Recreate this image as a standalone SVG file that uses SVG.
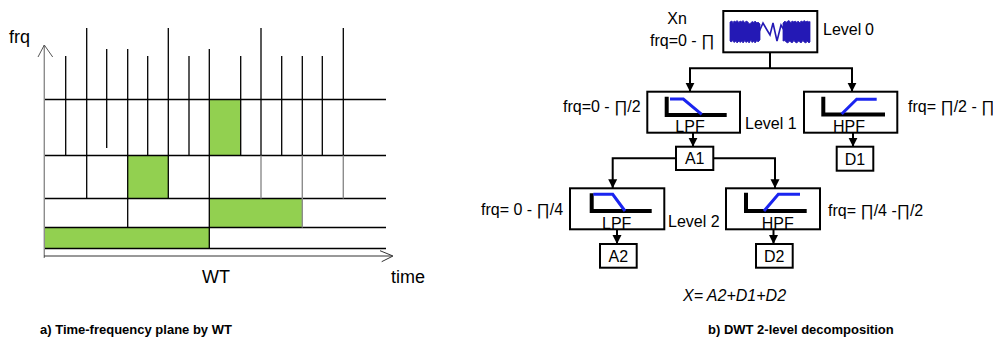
<svg xmlns="http://www.w3.org/2000/svg" width="993" height="352" viewBox="0 0 993 352">
<defs>
<marker id="ah" markerUnits="userSpaceOnUse" markerWidth="9" markerHeight="10" refX="9" refY="4.5" orient="auto" viewBox="0 0 9 9">
<path d="M0,0 L9,4.5 L0,9 z" fill="#000"/>
</marker>
</defs>
<style>
text{font-family:"Liberation Sans",Arial,sans-serif;fill:#000}
.t16{font-size:16px}
.t18{font-size:18px}
.cap{font-size:13px;font-weight:bold}
.grid{stroke:#000;stroke-width:1.3;fill:none}
.gray{stroke:#8c8c8c;stroke-width:1.4;fill:none}
.green{fill:#92d050}
.box{fill:#fff;stroke:#000;stroke-width:2}
.conn{stroke:#000;stroke-width:2;fill:none}
.blk{stroke:#000;stroke-width:4;fill:none}
.blu{stroke:#1a24f0;stroke-width:3;fill:none}
</style>

<g id="tf-plane">
<rect class="green" x="209.3" y="99.5" width="31.4" height="56"/>
<rect class="green" x="127.7" y="155.5" width="40.6" height="43"/>
<rect class="green" x="209.3" y="198.5" width="92.7" height="29"/>
<rect class="green" x="44.3" y="227.5" width="165" height="21"/>
<g class="grid">
<line x1="44" y1="99.5" x2="386" y2="99.5"/>
<line x1="44" y1="155.5" x2="386" y2="155.5"/>
<line x1="44" y1="198.5" x2="386" y2="198.5"/>
<line x1="44" y1="227.5" x2="386" y2="227.5"/>
<line x1="44" y1="248.5" x2="386" y2="248.5"/>
<line x1="65.7" y1="56" x2="65.7" y2="155.5"/>
<line x1="86.7" y1="28" x2="86.7" y2="198.5"/>
<line x1="106.7" y1="49" x2="106.7" y2="148"/>
<line x1="127.7" y1="49" x2="127.7" y2="227.5"/>
<line x1="147.7" y1="56" x2="147.7" y2="155.5"/>
<line x1="168.3" y1="28" x2="168.3" y2="198.5"/>
<line x1="189" y1="56" x2="189" y2="155.5"/>
<line x1="209.3" y1="49" x2="209.3" y2="248.5"/>
<line x1="240.7" y1="56" x2="240.7" y2="155.5"/>
<line x1="261" y1="28" x2="261" y2="155.5"/>
<line x1="281.7" y1="56" x2="281.7" y2="155.5"/>
<line x1="302.3" y1="56" x2="302.3" y2="155.5"/>
<line x1="322.3" y1="56" x2="322.3" y2="155.5"/>
<line x1="343.3" y1="28" x2="343.3" y2="155.5"/>
</g>
<g class="gray">
<line x1="261" y1="155.5" x2="261" y2="198.5"/>
<line x1="302.3" y1="155.5" x2="302.3" y2="227.5"/>
<line x1="343.3" y1="155.5" x2="343.3" y2="198.5"/>
<line x1="44.3" y1="45" x2="44.3" y2="258"/>
<polyline points="38,57 44.3,45 52.7,57" stroke="#555" stroke-width="1"/>
</g>
<line x1="44" y1="256" x2="392" y2="256" stroke="#333" stroke-width="1"/>
<polyline points="380,250.7 393,256 381.7,261.7" fill="none" stroke="#333" stroke-width="1"/>
<text class="t18" x="9" y="43">frq</text>
<text class="t18" x="202" y="283">WT</text>
<text class="t18" x="391" y="283">time</text>
</g>

<g id="connectors">
<polyline class="conn" points="770,52.3 770,68.3"/>
<line class="conn" x1="689" y1="68.3" x2="853" y2="68.3"/>
<line class="conn" x1="690" y1="68.3" x2="690" y2="91.7" marker-end="url(#ah)"/>
<line class="conn" x1="852" y1="68.3" x2="852" y2="91.7" marker-end="url(#ah)"/>
<line class="conn" x1="693" y1="132.7" x2="693" y2="146.7" marker-end="url(#ah)"/>
<line class="conn" x1="853" y1="132.7" x2="853" y2="146.7" marker-end="url(#ah)"/>
<polyline class="conn" points="676,158.3 612.7,158.3 612.7,188.3" marker-end="url(#ah)"/>
<polyline class="conn" points="713.3,158.3 775,158.3 775,188.3" marker-end="url(#ah)"/>
<line class="conn" x1="617" y1="229.3" x2="617" y2="244" marker-end="url(#ah)"/>
<line class="conn" x1="773.5" y1="229.3" x2="773.5" y2="244" marker-end="url(#ah)"/>
</g>

<g id="xn">
<rect class="box" x="723.3" y="11" width="94" height="41.3"/>
<path fill="#2419b5" stroke="#2419b5" stroke-width="0.8" d="M730,22 L732,21 L733,23.5 L734,21 L736,22 L737,20.5 L739,22.5 L740,21 L742,22 L743,20.5 L745,23 L746,21 L748,22 L749,24 L751,23 L752,21.5 L754,22.5 L755,21 L757,23 L758,22 L760,24 L760,40 L758,42 L757,40.5 L755,43 L754,41 L752,42.5 L751,40 L749,43 L748,41 L746,42.5 L745,40.5 L743,43 L742,41 L740,42.5 L739,41 L737,43 L736,41 L734,42.5 L733,40.5 L731,42 L730,41 Z"/>
<polyline fill="none" stroke="#2419b5" stroke-width="1.6" points="759,32 763,23 767,30 770,35 773,23 777,41 781,25 784,30"/>
<path fill="#2419b5" stroke="#2419b5" stroke-width="0.8" d="M783,23 L785,21 L786,22.5 L788,21 L789,20.5 L791,23 L792,21 L794,22 L795,21 L797,22.5 L798,21 L800,23 L801,21 L803,22 L804,20.5 L806,22 L807,21 L809,22 L810,21.5 L810,42 L809,43 L807,41 L806,43 L804,42 L803,40.5 L801,43 L800,42 L798,41 L797,43 L795,42 L794,40.5 L792,43 L791,42 L789,41 L788,43 L786,42 L785,40.5 L783,41 Z"/>
<text class="t16" x="677" y="24" text-anchor="middle">Xn</text>
<text class="t16" x="650" y="46">frq=0 - ∏</text>
<text class="t16" x="823" y="35">Level</text>
<text class="t16" x="865" y="35">0</text>
</g>

<g id="lpf1">
<rect class="box" x="647.3" y="91.7" width="92.7" height="41"/>
<path class="blk" d="M666.7,96.7 V115 H726.7"/>
<path class="blu" d="M670,99 H683.3 L701.7,114.3"/>
<text class="t16" x="690" y="132" text-anchor="middle">LPF</text>
<text class="t16" x="563" y="112">frq=0 - ∏/2</text>
<text class="t16" x="745" y="129">Level 1</text>
</g>

<g id="hpf1">
<rect class="box" x="804" y="91.7" width="93.3" height="41"/>
<path class="blk" d="M823.3,96.7 V114.5 H885"/>
<path class="blu" d="M841.7,114 L856.7,99.3 H876.7"/>
<text class="t16" x="849" y="132" text-anchor="middle">HPF</text>
<text class="t16" x="908" y="112">frq= ∏/2 - ∏</text>
</g>

<g id="a1">
<rect class="box" x="676" y="146.7" width="37.3" height="23.3"/>
<text class="t16" x="694.7" y="164" text-anchor="middle">A1</text>
</g>

<g id="d1">
<rect class="box" x="836.7" y="146.7" width="36.6" height="24"/>
<text class="t16" x="855" y="164.5" text-anchor="middle">D1</text>
</g>

<g id="lpf2">
<rect class="box" x="570" y="188.3" width="94.3" height="41"/>
<path class="blk" d="M591.7,193.3 V211 H651.7"/>
<path class="blu" d="M593.3,194.3 H612.7 L625,211"/>
<text class="t16" x="616.7" y="228.5" text-anchor="middle">LPF</text>
<text class="t16" x="481" y="215">frq= 0 - ∏/4</text>
<text class="t16" x="668" y="227">Level 2</text>
</g>

<g id="hpf2">
<rect class="box" x="726" y="188.3" width="94" height="41"/>
<path class="blk" d="M746,192.7 V211 H806.7"/>
<path class="blu" d="M764,211 L778.3,194.3 H800"/>
<text class="t16" x="777.7" y="228.5" text-anchor="middle">HPF</text>
<text class="t16" x="828" y="216">frq= ∏/4 -∏/2</text>
</g>

<g id="a2">
<rect class="box" x="600" y="244" width="36.7" height="23.7"/>
<text class="t16" x="618.3" y="261.8" text-anchor="middle">A2</text>
</g>

<g id="d2">
<rect class="box" x="756" y="244" width="36.7" height="23.7"/>
<text class="t16" x="774.3" y="261.8" text-anchor="middle">D2</text>
</g>

<text class="t16" x="683" y="301" font-style="italic">X= A2+D1+D2</text>
<text class="cap" x="40" y="334">a) Time-frequency plane by WT</text>
<text class="cap" x="708" y="334">b) DWT 2-level decomposition</text>
</svg>
